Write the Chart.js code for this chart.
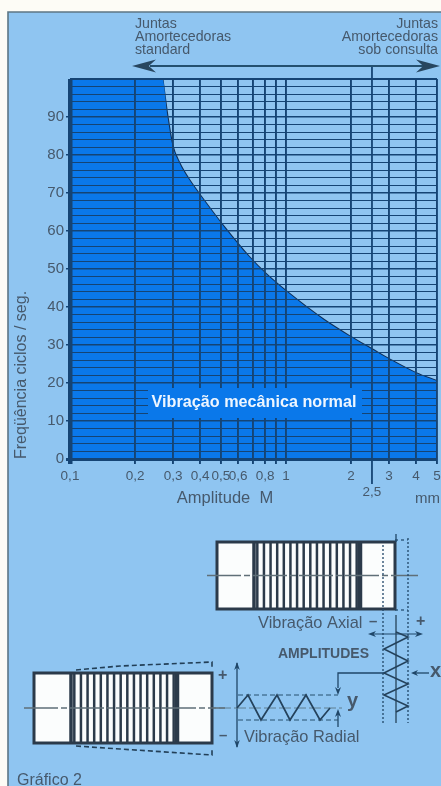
<!DOCTYPE html>
<html lang="pt">
<head>
<meta charset="utf-8">
<title>Gráfico 2</title>
<script src="https://cdn.jsdelivr.net/npm/chart.js@4"></script>
<style>
html,body{margin:0;padding:0;background:#fdfcf6;overflow:hidden}
canvas{display:block;filter:blur(.45px)}
</style>
</head>
<body>
<canvas id="c" width="441" height="786"></canvas>
<script>
const plateauAmplitude = [0.1];
const plateauFrequency = [100];
const amplitudeMm = [0.268, 0.283, 0.298, 0.321, 0.357, 0.419, 0.518, 0.675, 0.809, 1, 1.5, 2, 2.5, 3, 4, 5];
const frequencyCps = [100, 90, 82.6, 77.9, 73.4, 67.9, 61, 53.2, 48.7, 44.2, 36.6, 32.1, 28.9, 26.3, 22.6, 20.5];
const xTickValues = [0.1, 0.2, 0.3, 0.4, 0.5, 0.6, 0.7, 0.8, 0.9, 1, 2, 2.5, 3, 4, 5];
const xTickHidden = [0.7, 0.9];
const yLabelStep = 10;
const FONT = '"Liberation Sans", Arial, sans-serif';
const TEXT = '#46596c', NAVY = '#154474', PANEL = '#8fc5f1', FILL = '#0a78ea', INK = '#2b3a4a';

function label(ctx, s, x, y, size, opt = {}) {
  ctx.font = (opt.bold ? 'bold ' : '') + size + 'px ' + FONT;
  ctx.fillStyle = opt.color || TEXT;
  ctx.textAlign = opt.align || 'left';
  ctx.textBaseline = 'middle';
  ctx.fillText(s, x, y);
}
function poly(ctx, pts, w, color, dash) {
  ctx.beginPath();
  pts.forEach((p, i) => i ? ctx.lineTo(p[0], p[1]) : ctx.moveTo(p[0], p[1]));
  ctx.lineWidth = w; ctx.strokeStyle = color; ctx.setLineDash(dash || []); ctx.stroke(); ctx.setLineDash([]);
}
function head(ctx, x, y, dx, dy, len, half, color) {
  ctx.beginPath();
  ctx.moveTo(x, y);
  ctx.lineTo(x - dx * len - dy * half, y - dy * len - dx * half);
  ctx.lineTo(x - dx * len * .7, y - dy * len * .7);
  ctx.lineTo(x - dx * len + dy * half, y - dy * len + dx * half);
  ctx.closePath();
  ctx.fillStyle = color; ctx.fill();
}
function bellows(ctx, x0, x1, y0, y1, leftEnd, rightEnd, axisFrom, axisTo, ribs) {
  ctx.fillStyle = '#fbfdfd';
  ctx.fillRect(x0, y0, x1 - x0, y1 - y0);
  const my = (y0 + y1) / 2;
  for (let i = 0; i < ribs; i++) {
    const x = leftEnd + (rightEnd - leftEnd) * (i + .5) / ribs;
    poly(ctx, [[x, y0], [x, y1]], 2.5, INK);
  }
  poly(ctx, [[leftEnd, y0], [leftEnd, y1]], 3.5, INK);
  poly(ctx, [[rightEnd, y0], [rightEnd, y1]], 4.5, INK);
  ctx.strokeStyle = INK; ctx.lineWidth = 3;
  ctx.strokeRect(x0, y0, x1 - x0, y1 - y0);
  poly(ctx, [[axisFrom, my], [axisTo, my]], 1.5, '#5f6f78', [34, 3, 6, 3]);
}

const decor = {
  id: 'decor',
  beforeDraw(chart) {
    const c = chart.ctx;
    c.save();
    c.fillStyle = '#fdfcf6'; c.fillRect(0, 0, 441, 786);
    c.fillStyle = PANEL; c.fillRect(8, 12, 433, 774);
    poly(c, [[8, 786], [8, 12], [441, 12]], 1.6, '#5d7684');
    c.restore();
  },
  afterDraw(chart) {
    const c = chart.ctx, xs = chart.scales.x, a = chart.chartArea;
    c.save();
    // area label box
    c.fillStyle = FILL; c.fillRect(148, 388, 214, 30);
    label(c, 'Vibração mecânica normal', 254, 403, 16.2, {bold: true, color: '#eef6ff', align: 'center'});
    // 2,5 marker and range arrow
    const x25 = xs.getPixelForValue(2.5);
    poly(c, [[x25, 67], [x25, a.bottom + 25]], 1.8, NAVY);
    poly(c, [[150, 66], [425, 66]], 2.2, '#24506f');
    head(c, 132, 66, -1, 0, 24, 6.5, '#27465f');
    head(c, 440, 66, 1, 0, 24, 6.5, '#27465f');
    // header captions
    ['Juntas', 'Amortecedoras', 'standard'].forEach((s, i) => label(c, s, 135, 24 + i * 13.2, 14.2));
    ['Juntas', 'Amortecedoras', 'sob consulta'].forEach((s, i) => label(c, s, 438, 24 + i * 13.2, 14.2, {align: 'right'}));
    label(c, 'Amplitude  M', 225, 498, 16.5, {align: 'center'});
    label(c, 'mm', 415, 499, 15);
    // axial bellows
    bellows(c, 217, 395, 542, 609, 254, 360, 207, 418, 16);
    poly(c, [[383, 545], [383, 723]], 1.3, '#1f4668', [2, 2]);
    poly(c, [[408, 538], [408, 723]], 1.3, '#1f4668', [2, 2]);
    poly(c, [[395, 540], [408, 540]], 1.2, '#1f4668', [3, 3]);
    poly(c, [[395, 610], [408, 610]], 1.2, '#1f4668', [3, 3]);
    poly(c, [[396, 534], [396, 542]], 1.3, '#1f4668');
    poly(c, [[396, 615], [396, 723]], 1.5, '#33536c');
    poly(c, [[372, 634], [420, 634]], 1.2, '#1f4668');
    head(c, 368, 634, -1, 0, 8, 3, '#1f4668');
    head(c, 423, 634, 1, 0, 8, 3, '#1f4668');
    poly(c, [[396, 632], [408, 637], [384, 649], [408, 661], [384, 673], [408, 684], [384, 695], [408, 706], [396, 712]], 1.6, '#24425c');
    label(c, 'Vibração Axial', 258, 623, 16.4);
    label(c, '–', 369, 622, 15, {bold: true});
    label(c, '+', 416, 622, 16, {bold: true});
    label(c, 'AMPLITUDES', 278, 654, 14, {bold: true});
    label(c, 'x', 430, 671, 20, {bold: true});
    poly(c, [[415, 673], [429, 673]], 1.3, '#1f4668');
    head(c, 411, 673, -1, 0, 7, 3, '#1f4668');
    // connector and y amplitude
    poly(c, [[384, 673], [338, 673], [338, 688]], 1.3, '#1f4668');
    head(c, 338, 695, 0, 1, 8, 3, '#1f4668');
    poly(c, [[338, 727], [338, 714]], 1.3, '#1f4668');
    head(c, 338, 709, 0, -1, 8, 3, '#1f4668');
    label(c, 'y', 347, 701, 20, {bold: true});
    // radial wave
    poly(c, [[237, 663], [237, 747]], 1.3, '#1f4668');
    head(c, 237, 662, 0, -1, 8, 2.8, '#1f4668');
    head(c, 237, 748, 0, 1, 8, 2.8, '#1f4668');
    poly(c, [[238, 695], [338, 695]], 1, '#26506f', [5, 3]);
    poly(c, [[238, 720], [338, 720]], 1, '#26506f', [5, 3]);
    poly(c, [[204, 708], [342, 708]], 1, '#5f7f90', [12, 3]);
    poly(c, [[237, 708], [248, 695], [261, 720], [277, 695], [290, 720], [306, 695], [320, 720], [330, 708]], 1.7, '#24425c');
    label(c, 'Vibração Radial', 244, 737, 16.4);
    label(c, '+', 218, 676, 16, {bold: true});
    label(c, '–', 219, 736, 15, {bold: true});
    // radial bellows
    poly(c, [[76, 670], [120, 666], [212, 662], [212, 667]], 1.6, '#223f57', [5, 3]);
    poly(c, [[76, 746], [120, 749], [212, 755], [212, 750]], 1.6, '#223f57', [5, 3]);
    bellows(c, 34, 212, 673, 743, 71, 177, 24, 225, 16);
    label(c, 'Gráfico 2', 17, 781, 16);
    c.restore();
  }
};

const outline = amplitudeMm.map((x, i) => ({x, y: frequencyCps[i]}));
new Chart(document.getElementById('c'), {
  type: 'line',
  data: {
    datasets: [{
      label: 'Vibração mecânica normal',
      data: plateauAmplitude.map((x, i) => ({x, y: plateauFrequency[i]})).concat(outline),
      borderWidth: 0,
      borderColor: 'rgba(0,0,0,0)',
      backgroundColor: FILL,
      fill: 'origin',
      pointRadius: 0,
      cubicInterpolationMode: 'monotone'
    }, {
      label: 'Limite',
      data: outline,
      borderColor: '#0e2f58',
      borderWidth: 2,
      fill: false,
      pointRadius: 0,
      cubicInterpolationMode: 'monotone'
    }]
  },
  options: {
    responsive: false,
    animation: false,
    devicePixelRatio: 1,
    layout: {padding: {left: 0, top: 79, right: 4, bottom: 0}},
    plugins: {legend: {display: false}, tooltip: {enabled: false}, title: {display: false}},
    scales: {
      x: {
        type: 'logarithmic', min: 0.1, max: 5,
        afterFit: s => { s.height = 327; s.paddingRight = 0; s.paddingLeft = 0; },
        afterBuildTicks: s => { s.ticks = xTickValues.map(value => ({value})); },
        grid: {
          z: 1,
          color: NAVY,
          tickColor: NAVY,
          tickLength: 5,
          lineWidth: c => c.tick && c.tick.value === 0.1 ? 4.5 : (c.tick && c.tick.value === 2.5 ? 0 : 1.9)
        },
        border: {display: false},
        ticks: {
          autoSkip: false, maxRotation: 0, minRotation: 0, padding: 4,
          color: TEXT, font: {family: FONT, size: 13.5},
          callback: v => {
            if (xTickHidden.includes(v)) return '';
            const s = String(v).replace('.', ',');
            return v === 2.5 ? ['', s] : s;
          }
        }
      },
      y: {
        min: 0, max: 100,
        afterFit: s => { s.width = 70; },
        title: {
          display: true, text: 'Freqüência ciclos / seg.', align: 'start',
          color: TEXT, font: {family: FONT, size: 16}, padding: {top: 12, bottom: 0}
        },
        grid: {
          z: 1,
          color: NAVY,
          tickColor: c => c.tick && c.tick.value % yLabelStep === 0 && c.tick.value < 100 ? NAVY : 'rgba(0,0,0,0)',
          tickLength: 4,
          lineWidth: c => !c.tick ? 1 : c.tick.value === 0 ? 3 : (c.tick.value === 100 ? 2 : (c.tick.value % yLabelStep === 0 ? 1.5 : 1.1))
        },
        border: {display: false},
        ticks: {
          stepSize: 2, autoSkip: false, padding: 2,
          color: TEXT, font: {family: FONT, size: 15},
          callback: v => (v % yLabelStep === 0 && v < 100 ? String(v) : '')
        }
      }
    }
  },
  plugins: [decor]
});
</script>
</body>
</html>
